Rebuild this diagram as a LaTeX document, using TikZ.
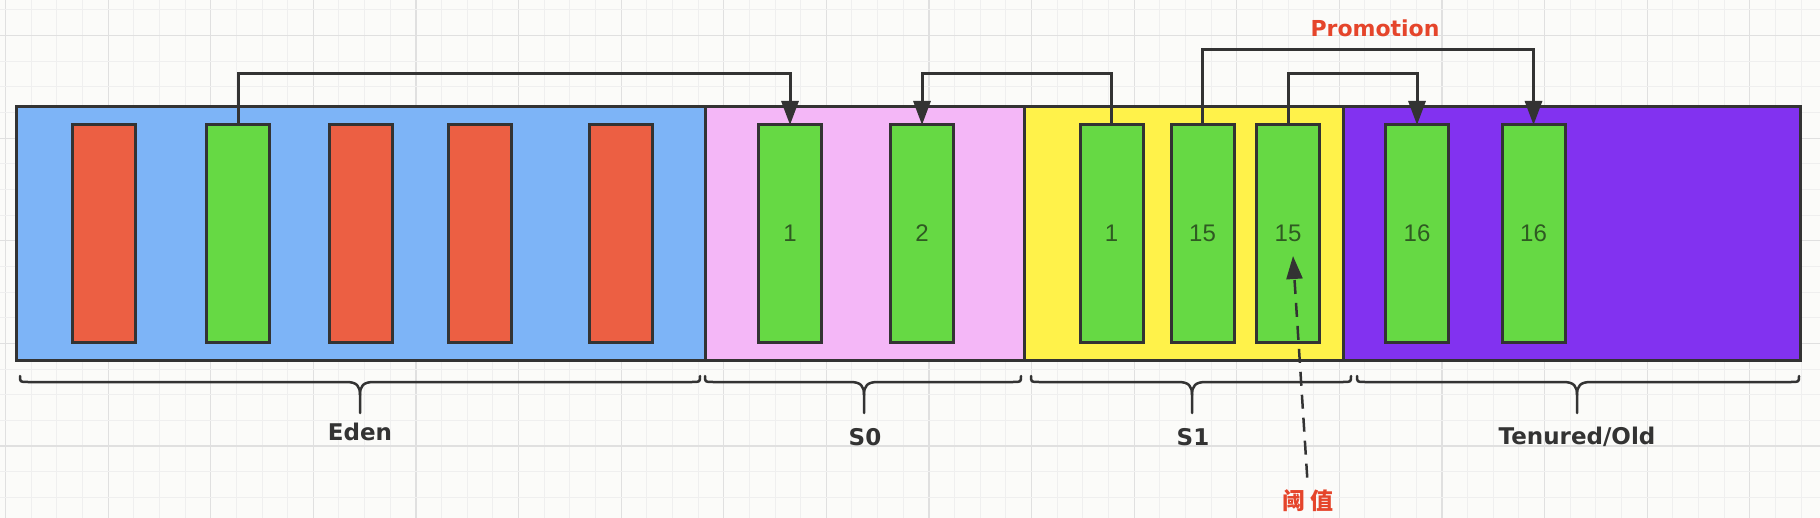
\documentclass[tikz,border=0pt]{standalone}
\usepackage{fontspec}
\setmainfont{DejaVu Sans}
\newfontfamily\digitfont{Liberation Sans}
\newfontfamily\cjk{Noto Sans CJK SC}
\usetikzlibrary{arrows.meta,calc}
\definecolor{edenblue}{HTML}{7DB4F7}
\definecolor{s0pink}{HTML}{F4B7F7}
\definecolor{s1yellow}{HTML}{FFF24A}
\definecolor{oldpurple}{HTML}{8232F0}
\definecolor{objred}{HTML}{EC5F43}
\definecolor{objgreen}{HTML}{66D944}
\definecolor{edgecol}{HTML}{333333}
\definecolor{labred}{HTML}{E5452B}
\definecolor{numcol}{HTML}{2F5A22}
\definecolor{bgcol}{HTML}{FBFBF9}
\definecolor{gridminor}{HTML}{EFEFEF}
\definecolor{gridmajor}{HTML}{E0E0E0}
\tikzset{
  region/.style={draw=edgecol, line width=1.5pt, inner sep=0pt, outer sep=0pt, minimum height=126.5pt},
  objbox/.style={draw=edgecol, line width=1.5pt, inner sep=0pt, outer sep=0pt, minimum width=31.5pt, minimum height=108.5pt, font=\digitfont\fontsize{12}{14}\selectfont, text=numcol},
  redobj/.style={objbox, fill=objred},
  greenobj/.style={objbox, fill=objgreen},
  conn/.style={draw=edgecol, line width=1.5pt, -{Triangle[length=12pt,width=8.5pt]}},
  bracestyle/.style={draw=edgecol, line width=1.25pt, line cap=round, line join=round},
  arealabel/.style={font=\bfseries\fontsize{11.5}{13}\selectfont, text=edgecol, inner sep=0pt},
  redlabel/.style={font=\bfseries\fontsize{11}{13}\selectfont, text=labred, inner sep=0pt},
  dasharrow/.style={draw=edgecol, line width=1.25pt, dash pattern=on 7pt off 4.5pt, -{Triangle[length=11.5pt,width=8pt]}}
}
\newcommand\curlybr[3]{%
  \draw[bracestyle] (#1,376) .. controls (#1,382) .. ({#1+8},382) -- ({#3-14},382)
    .. controls ({#3-3},382) and (#3,386) .. (#3,395) -- (#3,413);
  \draw[bracestyle] (#3,395) .. controls (#3,386) and ({#3+3},382) .. ({#3+14},382)
    -- ({#2-8},382) .. controls (#2,382) .. (#2,376);
}
\begin{document}
\begin{tikzpicture}[x=0.5pt,y=-0.5pt]
\useasboundingbox (0,0) rectangle (1820,518);
\fill[bgcol] (0,0) rectangle (1820,518);
\begin{scope}
\clip (0,0) rectangle (1820,518);
\foreach \k in {0,...,71} {
  \pgfmathtruncatemacro\m{mod(\k,4)}
  \ifnum\m=0
    \draw[gridmajor, line width=0.6pt] ({5.5+25.65*\k},0) -- ({5.5+25.65*\k},518);
  \else
    \draw[gridminor, line width=0.5pt] ({5.5+25.65*\k},0) -- ({5.5+25.65*\k},518);
  \fi
}
\foreach \k in {0,...,20} {
  \pgfmathtruncatemacro\m{mod(\k,4)}
  \ifnum\m=1
    \draw[gridmajor, line width=0.6pt] (0,{10+25.65*\k}) -- (1820,{10+25.65*\k});
  \else
    \draw[gridminor, line width=0.5pt] (0,{10+25.65*\k}) -- (1820,{10+25.65*\k});
  \fi
}
\end{scope}

% regions
\node[region, fill=edenblue, minimum width=344.5pt] (eden) at (360.5,233.5) {};
\node[region, fill=s0pink, minimum width=159.5pt] (s0) at (864.5,233.5) {};
\node[region, fill=s1yellow, minimum width=159.5pt] (s1) at (1183.5,233.5) {};
\node[region, fill=oldpurple, minimum width=228.5pt] (old) at (1571.5,233.5) {};

% objects
\node[redobj] (e1) at (104,233.5) {};
\node[greenobj] (eg) at (238,233.5) {};
\node[redobj] (e2) at (361,233.5) {};
\node[redobj] (e3) at (479.5,233.5) {};
\node[redobj] (e4) at (621,233.5) {};
\node[greenobj] (s0a) at (790,233.5) {1};
\node[greenobj] (s0b) at (922,233.5) {2};
\node[greenobj] (s1a) at (1111.5,233.5) {1};
\node[greenobj] (s1b) at (1202.5,233.5) {15};
\node[greenobj] (s1c) at (1288,233.5) {15};
\node[greenobj] (o1) at (1417,233.5) {16};
\node[greenobj] (o2) at (1533.5,233.5) {16};

% connector levels
\coordinate (lvlA) at (0,74);
\coordinate (lvlB) at (0,50);

\draw[conn] (eg.north) -- (eg.north |- lvlA) -| (s0a.north);
\draw[conn] (s1a.north) -- (s1a.north |- lvlA) -| (s0b.north);
\draw[conn] (s1b.north) -- (s1b.north |- lvlB) -| (o2.north);
\draw[conn] (s1c.north) -- (s1c.north |- lvlA) -| (o1.north);

\node[redlabel] (promo) at (1375,28) {Promotion};

% braces
\curlybr{20}{700}{360}
\curlybr{705}{1021}{864}
\curlybr{1031}{1351}{1192}
\curlybr{1357}{1799}{1577}

\node[arealabel] (edenlab) at (360,432) {Eden};
\node[arealabel] (s0lab) at (865,437) {S0};
\node[arealabel] (s1lab) at (1193,437) {S1};
\node[arealabel] (oldlab) at (1577,437) {Tenured/Old};

% threshold
\node[redlabel, font=\cjk\bfseries\fontsize{11.5}{13}\selectfont] (thr) at (1308,501) {阈\hspace{3pt}值};
\coordinate (thrtip) at (1293,256);
\draw[dasharrow, shorten <=6pt] (thr.north) -- (thrtip);
\end{tikzpicture}
\end{document}
